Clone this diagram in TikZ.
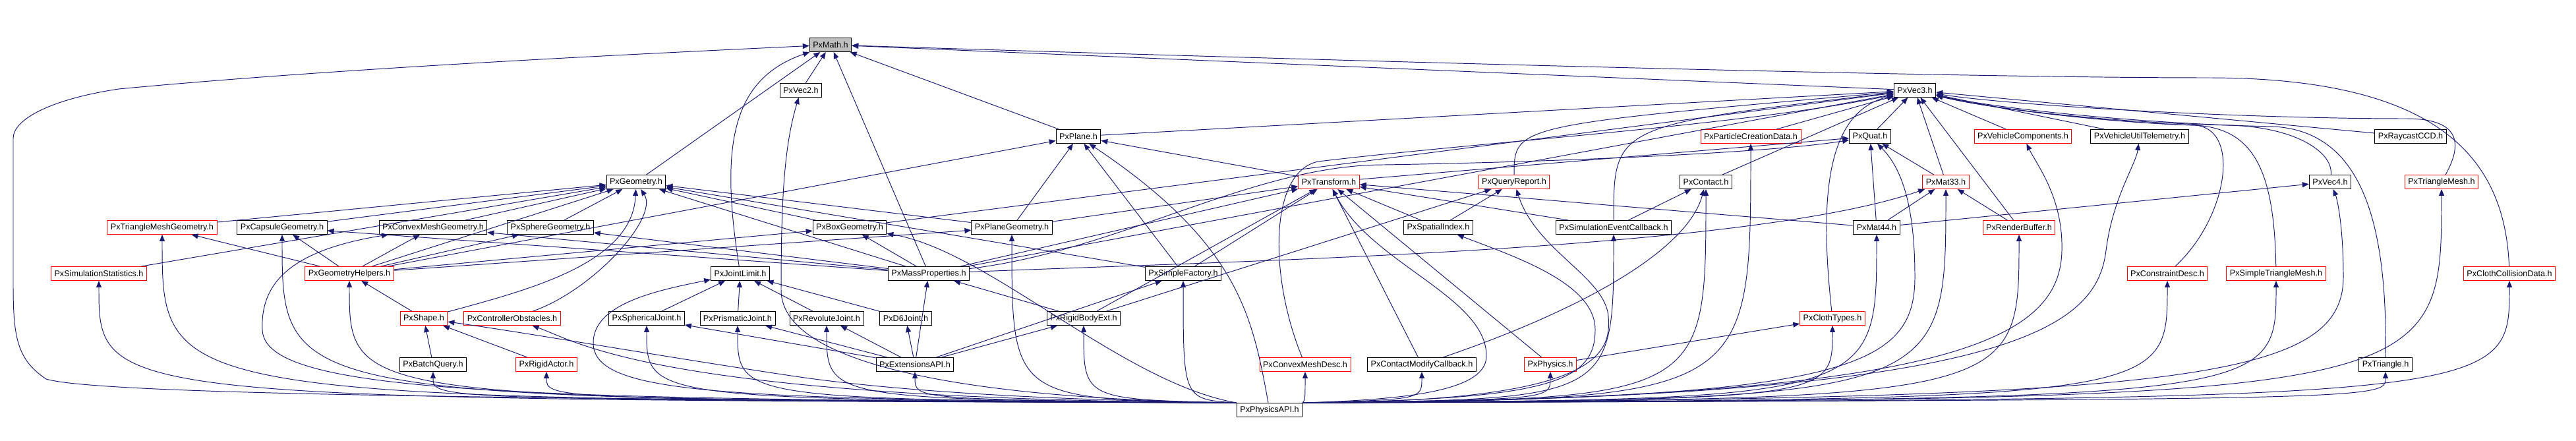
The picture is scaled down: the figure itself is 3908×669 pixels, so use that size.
\documentclass[tikz,border=0pt]{standalone}
\usepackage{fontspec}
\setmainfont{Liberation Sans}
\usetikzlibrary{arrows.meta}

\definecolor{edgeblue}{RGB}{25,25,112}
\definecolor{nodered}{RGB}{255,0,0}
\definecolor{rootgray}{RGB}{191,191,191}

\begin{document}
\begin{tikzpicture}[
    x=0.02cm, y=-0.02cm,
    header/.style={
        draw=black,
        fill=white,
        line width=0.55pt,
        minimum height=0.42cm,
        inner xsep=0.1cm,
        inner ysep=0pt,
        font=\fontsize{7.2}{8.6}\selectfont
    },
    extern/.style={header, draw=nodered},
    root/.style={header, fill=rootgray},
    inc/.style={draw=edgeblue, line width=0.55pt, -{Triangle[length=0.2cm, width=0.16cm]}}
]
\useasboundingbox (0,0) rectangle (3908,669);

% Rank 0 and 1
\node[root] (math) at (1260,68) {PxMath.h};
\node[header] (vec2) at (1215,137) {PxVec2.h};
\node[header] (vec3) at (2905,137) {PxVec3.h};

% Rank 2
\node[header] (plane) at (1636,207) {PxPlane.h};
\node[extern] (particle) at (2656,207) {PxParticleCreationData.h};
\node[header] (quat) at (2837,207) {PxQuat.h};
\node[extern] (vehcomp) at (3069,207) {PxVehicleComponents.h};
\node[header] (vehtele) at (3246,207) {PxVehicleUtilTelemetry.h};
\node[header] (raycast) at (3657,207) {PxRaycastCCD.h};

% Rank 3
\node[header] (geometry) at (965,276) {PxGeometry.h};
\node[extern] (transform) at (2016,276) {PxTransform.h};
\node[extern] (query) at (2297,276) {PxQueryReport.h};
\node[header] (contact) at (2588,276) {PxContact.h};
\node[extern] (mat33) at (2952,276) {PxMat33.h};
\node[header] (vec4) at (3535,276) {PxVec4.h};
\node[extern] (trimesh) at (3704,276) {PxTriangleMesh.h};

% Rank 4
\node[extern] (trimeshgeom) at (246,345) {PxTriangleMeshGeometry.h};
\node[header] (capsule) at (428,345) {PxCapsuleGeometry.h};
\node[header] (convexgeom) at (657,345) {PxConvexMeshGeometry.h};
\node[header] (sphere) at (835,345) {PxSphereGeometry.h};
\node[header] (box) at (1289,345) {PxBoxGeometry.h};
\node[header] (planegeom) at (1535,345) {PxPlaneGeometry.h};
\node[header] (spatial) at (2182,345) {PxSpatialIndex.h};
\node[header] (simevent) at (2448,345) {PxSimulationEventCallback.h};
\node[header] (mat44) at (2847,345) {PxMat44.h};
\node[extern] (render) at (3063,345) {PxRenderBuffer.h};

% Rank 5
\node[extern] (simstats) at (150,415) {PxSimulationStatistics.h};
\node[extern] (geomhelp) at (530,415) {PxGeometryHelpers.h};
\node[header] (jointlimit) at (1123,415) {PxJointLimit.h};
\node[header] (massprop) at (1409,415) {PxMassProperties.h};
\node[header] (simplefac) at (1795,415) {PxSimpleFactory.h};
\node[extern] (constraint) at (3288,415) {PxConstraintDesc.h};
\node[extern] (simpletri) at (3453,415) {PxSimpleTriangleMesh.h};
\node[extern] (clothcoll) at (3807,415) {PxClothCollisionData.h};

% Rank 6
\node[extern] (shape) at (643,483) {PxShape.h};
\node[extern] (ctrlobst) at (777,483) {PxControllerObstacles.h};
\node[header] (spherical) at (981,483) {PxSphericalJoint.h};
\node[header] (prismatic) at (1119,483) {PxPrismaticJoint.h};
\node[header] (revolute) at (1254,483) {PxRevoluteJoint.h};
\node[header] (d6) at (1374,483) {PxD6Joint.h};
\node[header] (rigidbody) at (1644,483) {PxRigidBodyExt.h};
\node[extern] (clothtypes) at (2780,483) {PxClothTypes.h};

% Rank 7 and 8
\node[header] (batch) at (657,553) {PxBatchQuery.h};
\node[extern] (rigidactor) at (829,553) {PxRigidActor.h};
\node[header] (extapi) at (1388,553) {PxExtensionsAPI.h};
\node[extern] (convexdesc) at (1980,553) {PxConvexMeshDesc.h};
\node[header] (contactmod) at (2157,553) {PxContactModifyCallback.h};
\node[extern] (physics) at (2352,553) {PxPhysics.h};
\node[header] (triangle) at (3619,553) {PxTriangle.h};
\node[header] (api) at (1926,622) {PxPhysicsAPI.h};

% bundles along the bottom and under PxVec3.h
\coordinate (bus) at (1926,606);
\coordinate (lbus) at (2600,190);

% Into PxMath.h
\draw[inc] (vec2) -- (math);
\draw[inc] (vec3) -- (math);
\draw[inc] (plane) -- (math);
\draw[inc] (geometry) -- (math);
\draw[inc] (massprop) -- (math);
\draw[inc] (jointlimit) .. controls (1092,220) and (1110,120) .. (math);
\draw[inc] (clothcoll) .. controls (3800,240) and (3700,118) .. (3350,118) .. controls (2900,118) and (1800,85) .. (math);
\draw[inc] (api.north west) .. controls (1000,606) and (160,602) .. (70,575) .. controls (25,545) and (20,510) .. (20,430) -- (20,210) .. controls (20,180) and (80,150) .. (180,135) .. controls (500,105) and (900,85) .. (math);

% Into PxVec2.h
\draw[inc] (api.north west) .. controls (1500,606) and (1185,560) .. (1185,440) .. controls (1185,300) and (1190,220) .. (vec2);

% Into PxVec3.h
\draw[inc] (plane) -- (vec3);
\draw[inc] (particle) -- (vec3);
\draw[inc] (quat) -- (vec3);
\draw[inc] (mat33) -- (vec3);
\draw[inc] (vehcomp) -- (vec3);
\draw[inc] (vehtele) -- (vec3);
\draw[inc] (raycast) -- (vec3);
\draw[inc] (render) -- (vec3);
\draw[inc] (contact) -- (vec3);
\draw[inc] (box) -- (vec3);
\draw[inc] (massprop) -- (vec3);
\draw[inc] (query) .. controls (query |- lbus) and (query |- lbus) .. (vec3);
\draw[inc] (simevent) .. controls (simevent |- lbus) and (simevent |- lbus) .. (vec3);
\draw[inc] (convexdesc) .. controls (1925,420) and (1925,260) .. (2000,245) .. controls (2250,215) and (2650,190) .. (vec3);
\draw[inc] (clothtypes) .. controls (2760,300) and (2770,170) .. (vec3);
\draw[inc] (constraint) .. controls (3380,330) and (3400,195) .. (3330,190) .. controls (3200,186) and (3020,165) .. (vec3);
\draw[inc] (simpletri) .. controls (3450,260) and (3420,195) .. (3330,190) .. controls (3200,186) and (3020,165) .. (vec3);
\draw[inc] (vec4) .. controls (3540,230) and (3480,192) .. (3380,190) .. controls (3200,186) and (3020,165) .. (vec3);
\draw[inc] (trimesh) .. controls (3735,220) and (3735,180) .. (3650,180) .. controls (3400,180) and (3050,160) .. (vec3);
\draw[inc] (triangle) .. controls (3622,330) and (3580,200) .. (3450,192) .. controls (3250,188) and (3030,165) .. (vec3);

% Into PxQuat.h
\draw[inc] (transform) -- (quat);
\draw[inc] (mat33) -- (quat);
\draw[inc] (mat44) -- (quat);
\draw[inc] (massprop) .. controls (1700,380) and (1900,250) .. (2100,250) .. controls (2400,245) and (2700,230) .. (quat);
\draw[inc] (api.north east) .. controls (2800,606) and (2905,560) .. (2905,420) .. controls (2905,300) and (2880,250) .. (quat);

% Into PxPlane.h
\draw[inc] (transform) -- (plane);
\draw[inc] (planegeom) -- (plane);
\draw[inc] (simplefac) -- (plane);
\draw[inc] (geomhelp) -- (plane);
\draw[inc] (api) .. controls (1900,480) and (1880,370) .. (plane);

% Into PxGeometry.h
\draw[inc] (simstats) -- (geometry);
\draw[inc] (trimeshgeom) -- (geometry);
\draw[inc] (capsule) -- (geometry);
\draw[inc] (convexgeom) -- (geometry);
\draw[inc] (sphere) -- (geometry);
\draw[inc] (box) -- (geometry);
\draw[inc] (planegeom) -- (geometry);
\draw[inc] (geomhelp) -- (geometry);
\draw[inc] (massprop) -- (geometry);
\draw[inc] (simplefac) -- (geometry);
\draw[inc] (shape) .. controls (800,440) and (960,400) .. (geometry);
\draw[inc] (ctrlobst) .. controls (900,440) and (1000,330) .. (geometry);

% Into PxTransform.h
\draw[inc] (planegeom) -- (transform);
\draw[inc] (massprop) -- (transform);
\draw[inc] (simplefac) -- (transform);
\draw[inc] (rigidbody) -- (transform);
\draw[inc] (spatial) -- (transform);
\draw[inc] (contactmod) -- (transform);
\draw[inc] (physics) -- (transform);
\draw[inc] (simevent) -- (transform);
\draw[inc] (mat44) -- (transform);
\draw[inc] (api.north east) .. controls (2150,606) and (2255,590) .. (2255,540) .. controls (2255,450) and (2080,400) .. (transform);

% Into PxQueryReport.h, PxContact.h
\draw[inc] (spatial) -- (query);
\draw[inc] (rigidbody) -- (query);
\draw[inc] (api.north east) .. controls (2420,610) and (2445,540) .. (2440,480) .. controls (2435,420) and (2330,380) .. (query);
\draw[inc] (simevent) -- (contact);
\draw[inc] (contactmod) .. controls (2400,470) and (2560,380) .. (contact);
\draw[inc] (api.north east) .. controls (contact |- bus) and (contact |- bus) .. (contact);

% Into the matrices and PxVec4.h
\draw[inc] (massprop) .. controls (1900,395) and (2650,380) .. (mat33);
\draw[inc] (mat44) -- (mat33);
\draw[inc] (render) -- (mat33);
\draw[inc] (api.north east) .. controls (mat33 |- bus) and (mat33 |- bus) .. (mat33);
\draw[inc] (api.north east) .. controls (mat44 |- bus) and (mat44 |- bus) .. (mat44);
\draw[inc] (mat44) -- (vec4);
\draw[inc] (api.north east) .. controls (3300,606) and (3555,580) .. (3555,420) .. controls (3555,340) and (3545,300) .. (vec4);

% Into the geometry types
\draw[inc] (geomhelp) -- (trimeshgeom);
\draw[inc] (geomhelp) -- (capsule);
\draw[inc] (geomhelp) -- (convexgeom);
\draw[inc] (geomhelp) -- (sphere);
\draw[inc] (geomhelp) -- (box);
\draw[inc] (geomhelp) -- (planegeom);
\draw[inc] (massprop) -- (capsule);
\draw[inc] (massprop) -- (convexgeom);
\draw[inc] (massprop) -- (sphere);
\draw[inc] (massprop) -- (box);
\draw[inc] (api.north west) .. controls (trimeshgeom |- bus) and (trimeshgeom |- bus) .. (trimeshgeom);
\draw[inc] (api.north west) .. controls (capsule |- bus) and (capsule |- bus) .. (capsule);
\draw[inc] (api.north west) .. controls (800,606) and (400,600) .. (398,500) .. controls (395,430) and (440,380) .. (convexgeom);
\draw[inc] (api.north west) .. controls (1700,580) and (1500,380) .. (box);
\draw[inc] (api.north west) .. controls (planegeom |- bus) and (planegeom |- bus) .. (planegeom);

% Helpers, shapes and statistics
\draw[inc] (shape) -- (geomhelp);
\draw[inc] (batch) -- (shape);
\draw[inc] (rigidactor) -- (shape);
\draw[inc] (api.north west) .. controls (geomhelp |- bus) and (geomhelp |- bus) .. (geomhelp);
\draw[inc] (api.north west) .. controls (simstats |- bus) and (simstats |- bus) .. (simstats);
\draw[inc] (api.north west) .. controls (1500,606) and (1300,585) .. (1200,570) .. controls (1000,540) and (800,505) .. (shape);
\draw[inc] (api.north west) .. controls (1000,606) and (880,520) .. (ctrlobst);
\draw[inc] (api.north west) .. controls (batch |- bus) and (batch |- bus) .. (batch);
\draw[inc] (api.north west) .. controls (rigidactor |- bus) and (rigidactor |- bus) .. (rigidactor);

% Joints and extensions
\draw[inc] (spherical) -- (jointlimit);
\draw[inc] (prismatic) -- (jointlimit);
\draw[inc] (revolute) -- (jointlimit);
\draw[inc] (d6) -- (jointlimit);
\draw[inc] (api.north west) .. controls (1100,606) and (900,600) .. (900,520) .. controls (900,460) and (1000,440) .. (jointlimit);
\draw[inc] (extapi) -- (massprop);
\draw[inc] (rigidbody) -- (massprop);
\draw[inc] (extapi) -- (spherical);
\draw[inc] (extapi) -- (prismatic);
\draw[inc] (extapi) -- (revolute);
\draw[inc] (extapi) -- (d6);
\draw[inc] (extapi) -- (rigidbody);
\draw[inc] (extapi) -- (simplefac);
\draw[inc] (api.north west) .. controls (spherical |- bus) and (spherical |- bus) .. (spherical);
\draw[inc] (api.north west) .. controls (prismatic |- bus) and (prismatic |- bus) .. (prismatic);
\draw[inc] (api.north west) .. controls (revolute |- bus) and (revolute |- bus) .. (revolute);
\draw[inc] (api.north west) .. controls (rigidbody |- bus) and (rigidbody |- bus) .. (rigidbody);
\draw[inc] (api.north west) .. controls (simplefac |- bus) and (simplefac |- bus) .. (simplefac);
\draw[inc] (api.north west) .. controls (extapi |- bus) and (extapi |- bus) .. (extapi);

% Right half, included by PxPhysicsAPI.h
\draw[inc] (physics) -- (clothtypes);
\draw[inc] (api.north east) .. controls (convexdesc |- bus) and (convexdesc |- bus) .. (convexdesc);
\draw[inc] (api.north east) .. controls (contactmod |- bus) and (contactmod |- bus) .. (contactmod);
\draw[inc] (api.north east) .. controls (physics |- bus) and (physics |- bus) .. (physics);
\draw[inc] (api.north east) .. controls (2350,606) and (2420,580) .. (2420,500) .. controls (2420,430) and (2300,390) .. (spatial);
\draw[inc] (api.north east) .. controls (simevent |- bus) and (simevent |- bus) .. (simevent);
\draw[inc] (api.north east) .. controls (clothtypes |- bus) and (clothtypes |- bus) .. (clothtypes);
\draw[inc] (api.north east) .. controls (particle |- bus) and (particle |- bus) .. (particle);
\draw[inc] (api.north east) .. controls (render |- bus) and (render |- bus) .. (render);
\draw[inc] (api.north east) .. controls (2950,606) and (3125,520) .. (3128,380) .. controls (3130,300) and (3090,250) .. (vehcomp);
\draw[inc] (api.north east) .. controls (3050,606) and (3180,500) .. (3195,380) .. controls (3205,300) and (3240,250) .. (vehtele);
\draw[inc] (api.north east) .. controls (constraint |- bus) and (constraint |- bus) .. (constraint);
\draw[inc] (api.north east) .. controls (simpletri |- bus) and (simpletri |- bus) .. (simpletri);
\draw[inc] (api.north east) .. controls (triangle |- bus) and (triangle |- bus) .. (triangle);
\draw[inc] (api.north east) .. controls (trimesh |- bus) and (trimesh |- bus) .. (trimesh);
\draw[inc] (api.north east) .. controls (clothcoll |- bus) and (clothcoll |- bus) .. (clothcoll);

\end{tikzpicture}
\end{document}
